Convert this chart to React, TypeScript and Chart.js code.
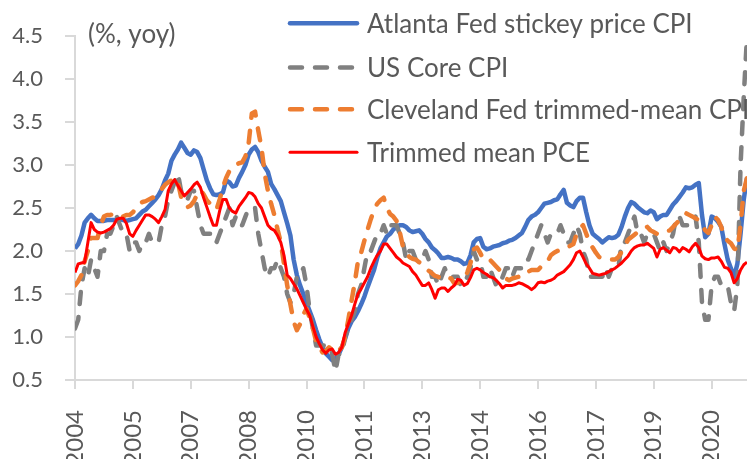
import React, { useEffect, useRef } from 'react';
import { Chart, registerables } from 'chart.js';

Chart.register(...registerables);

// Monthly data, January 2004 to June 2021 (index 0 = 2004-01)
const firstMonth = '2004-01';
const xTickLabels = ['2004', '2005', '2007', '2008', '2010', '2011', '2013', '2014', '2016', '2017', '2019', '2020'];
const xTickStepMonths = 18;
const yTickMin = 0.5;
const yTickMax = 4.5;
const yTickStep = 0.5;
const unitLabel = '(%, yoy)';

const seriesNames = [
  'Atlanta Fed stickey price CPI',
  'US Core CPI',
  'Cleveland Fed trimmed-mean CPI',
  'Trimmed mean PCE',
];

const atlantaSticky = [
  2.03, 2.08, 2.18, 2.33, 2.38, 2.42, 2.38, 2.35, 2.35, 2.35, 2.36, 2.36,
  2.36, 2.36, 2.37, 2.36, 2.35, 2.36, 2.37, 2.38, 2.42, 2.46, 2.48, 2.52,
  2.56, 2.60, 2.65, 2.72, 2.82, 2.90, 3.05, 3.12, 3.18, 3.26, 3.20, 3.14,
  3.12, 3.17, 3.15, 3.08, 2.95, 2.82, 2.73, 2.66, 2.65, 2.66, 2.68, 2.82,
  2.80, 2.75, 2.76, 2.85, 2.92, 3.00, 3.12, 3.18, 3.21, 3.15, 3.05, 2.98,
  2.92, 2.78, 2.72, 2.65, 2.58, 2.45, 2.32, 2.18, 1.90, 1.72, 1.60, 1.50,
  1.40, 1.30, 1.20, 1.08, 0.97, 0.88, 0.81, 0.77, 0.73, 0.74, 0.80, 0.88,
  0.98, 1.10, 1.18, 1.23, 1.30, 1.38, 1.47, 1.58, 1.68, 1.78, 1.92, 2.03,
  2.10, 2.17, 2.20, 2.25, 2.28, 2.30, 2.30, 2.28, 2.24, 2.22, 2.23, 2.24,
  2.20, 2.14, 2.10, 2.04, 2.01, 1.97, 1.92, 1.92, 1.93, 1.92, 1.90, 1.90,
  1.88, 1.85, 1.86, 1.95, 2.10, 2.14, 2.15, 2.05, 2.02, 2.03, 2.05, 2.06,
  2.07, 2.09, 2.10, 2.12, 2.13, 2.15, 2.18, 2.21, 2.28, 2.36, 2.40, 2.42,
  2.45, 2.50, 2.55, 2.56, 2.57, 2.59, 2.60, 2.66, 2.71, 2.56, 2.53, 2.51,
  2.58, 2.62, 2.62, 2.45, 2.30, 2.20, 2.17, 2.14, 2.10, 2.13, 2.16, 2.15,
  2.16, 2.19, 2.28, 2.40, 2.50, 2.57, 2.55, 2.51, 2.48, 2.45, 2.44, 2.47,
  2.45, 2.37, 2.40, 2.42, 2.42, 2.48, 2.54, 2.58, 2.63, 2.68, 2.74, 2.73,
  2.74, 2.77, 2.79, 2.42, 2.16, 2.20, 2.40, 2.38, 2.34, 2.28, 2.08, 1.90,
  1.80, 1.70, 1.85, 2.20, 2.60, 2.85,
];

const usCoreCpi = [
  1.1, 1.2, 1.6, 1.8, 1.7, 1.9, 1.8, 1.7, 2.0, 2.0, 2.2, 2.2,
  2.3, 2.4, 2.3, 2.2, 2.2, 2.0, 2.1, 2.1, 2.0, 2.1, 2.1, 2.2,
  2.1, 2.1, 2.1, 2.3, 2.4, 2.6, 2.7, 2.8, 2.9, 2.7, 2.6, 2.6,
  2.7, 2.7, 2.5, 2.3, 2.2, 2.2, 2.2, 2.1, 2.1, 2.2, 2.3, 2.4,
  2.5, 2.3, 2.4, 2.3, 2.3, 2.4, 2.5, 2.5, 2.5, 2.2, 2.0, 1.8,
  1.7, 1.8, 1.8, 1.9, 1.8, 1.7, 1.5, 1.4, 1.5, 1.7, 1.7, 1.8,
  1.6, 1.3, 1.1, 0.9, 0.9, 0.9, 0.9, 0.9, 0.8, 0.6, 0.8, 0.8,
  1.0, 1.1, 1.2, 1.3, 1.5, 1.6, 1.8, 2.0, 2.0, 2.1, 2.2, 2.2,
  2.3, 2.2, 2.3, 2.3, 2.3, 2.2, 2.1, 1.9, 2.0, 2.0, 1.9, 1.9,
  1.9, 2.0, 1.9, 1.7, 1.7, 1.6, 1.7, 1.8, 1.7, 1.7, 1.7, 1.7,
  1.6, 1.6, 1.7, 1.8, 2.0, 1.9, 1.9, 1.7, 1.7, 1.8, 1.7, 1.6,
  1.6, 1.7, 1.8, 1.8, 1.7, 1.8, 1.8, 1.8, 1.9, 1.9, 2.0, 2.1,
  2.2, 2.3, 2.2, 2.1, 2.2, 2.2, 2.2, 2.3, 2.2, 2.1, 2.1, 2.2,
  2.3, 2.2, 2.0, 1.9, 1.7, 1.7, 1.7, 1.7, 1.7, 1.8, 1.7, 1.8,
  1.8, 1.8, 2.1, 2.1, 2.2, 2.3, 2.4, 2.2, 2.2, 2.1, 2.2, 2.2,
  2.2, 2.1, 2.0, 2.1, 2.0, 2.1, 2.2, 2.4, 2.4, 2.3, 2.3, 2.3,
  2.3, 2.4, 2.1, 1.4, 1.2, 1.2, 1.6, 1.7, 1.7, 1.6, 1.6, 1.6,
  1.4, 1.3, 1.6, 3.0, 3.8, 4.5,
];

const clevelandTrimmed = [
  1.60, 1.65, 1.72, 1.88, 2.00, 2.15, 2.15, 2.15, 2.30, 2.40, 2.42, 2.42,
  2.43, 2.44, 2.42, 2.40, 2.42, 2.42, 2.45, 2.50, 2.55, 2.57, 2.58, 2.60,
  2.62, 2.63, 2.67, 2.72, 2.77, 2.80, 2.82, 2.85, 2.80, 2.63, 2.55, 2.51,
  2.53, 2.58, 2.66, 2.71, 2.66, 2.59, 2.55, 2.51, 2.48, 2.60, 2.74, 2.85,
  2.93, 2.98, 3.00, 3.02, 3.03, 3.10, 3.25, 3.60, 3.62, 3.40, 3.20, 2.90,
  2.70, 2.55, 2.42, 2.25, 2.10, 1.85, 1.60, 1.38, 1.18, 1.08, 1.15, 1.26,
  1.33, 1.22, 1.10, 0.95, 0.88, 0.82, 0.84, 0.88, 0.85, 0.81, 0.84, 0.88,
  1.00, 1.20, 1.42, 1.63, 1.88, 1.98, 2.12, 2.25, 2.37, 2.48, 2.55, 2.59,
  2.62, 2.50, 2.43, 2.40, 2.35, 2.22, 2.05, 1.98, 1.93, 1.91, 1.90, 1.87,
  1.85, 1.82, 1.77, 1.74, 1.71, 1.70, 1.67, 1.67, 1.69, 1.68, 1.62, 1.63,
  1.65, 1.66, 1.75, 1.86, 2.02, 2.04, 1.98, 1.90, 1.90, 1.90, 1.86, 1.82,
  1.78, 1.71, 1.68, 1.66, 1.68, 1.69, 1.70, 1.70, 1.73, 1.76, 1.78, 1.78,
  1.78, 1.82, 1.86, 1.88, 1.95, 1.98, 2.00, 2.01, 2.02, 2.04, 2.06, 2.08,
  2.20, 2.26, 2.30, 2.20, 2.10, 2.04, 1.98, 1.93, 1.92, 1.92, 1.91, 1.90,
  1.90, 1.93, 1.99, 2.06, 2.13, 2.16, 2.19, 2.22, 2.24, 2.26, 2.28, 2.24,
  2.22, 2.20, 2.20, 2.21, 2.23, 2.24, 2.28, 2.32, 2.36, 2.40, 2.44, 2.42,
  2.40, 2.38, 2.36, 2.30, 2.24, 2.21, 2.30, 2.40, 2.36, 2.28, 2.16, 2.12,
  2.09, 2.03, 2.01, 2.30, 2.70, 2.85,
];

const trimmedMeanPce = [
  1.75, 1.85, 1.86, 1.87, 2.10, 2.33, 2.25, 2.22, 2.21, 2.22, 2.24, 2.26,
  2.30, 2.37, 2.38, 2.38, 2.32, 2.20, 2.17, 2.24, 2.30, 2.36, 2.42, 2.42,
  2.40, 2.37, 2.33, 2.40, 2.48, 2.70, 2.78, 2.83, 2.76, 2.70, 2.64, 2.68,
  2.72, 2.77, 2.80, 2.74, 2.62, 2.51, 2.40, 2.30, 2.30, 2.47, 2.60, 2.60,
  2.50, 2.46, 2.44, 2.52, 2.57, 2.62, 2.68, 2.67, 2.63, 2.55, 2.50, 2.40,
  2.30, 2.26, 2.24, 2.18, 2.10, 1.95, 1.72, 1.68, 1.62, 1.56, 1.48, 1.40,
  1.32, 1.25, 1.12, 1.00, 0.92, 0.85, 0.81, 0.85, 0.86, 0.80, 0.82, 0.88,
  1.05, 1.15, 1.25, 1.38, 1.50, 1.56, 1.63, 1.70, 1.80, 1.88, 1.95, 2.00,
  2.08, 2.08, 2.03, 1.98, 1.93, 1.90, 1.86, 1.84, 1.82, 1.76, 1.72, 1.66,
  1.60, 1.60, 1.63, 1.55, 1.45, 1.55, 1.57, 1.57, 1.53, 1.57, 1.60, 1.67,
  1.66, 1.60, 1.62, 1.69, 1.78, 1.80, 1.78, 1.75, 1.73, 1.70, 1.69, 1.66,
  1.62, 1.57, 1.60, 1.60, 1.60, 1.61, 1.63, 1.62, 1.60, 1.58, 1.55, 1.58,
  1.63, 1.64, 1.63, 1.65, 1.66, 1.68, 1.72, 1.74, 1.76, 1.80, 1.84, 1.90,
  1.98, 2.00, 1.93, 1.85, 1.80, 1.74, 1.73, 1.72, 1.73, 1.74, 1.76, 1.78,
  1.80, 1.83, 1.86, 1.90, 1.94, 2.00, 2.04, 2.06, 2.07, 2.07, 2.09, 2.06,
  2.03, 1.93, 2.02, 2.04, 2.01, 1.98, 2.04, 2.03, 1.99, 2.04, 2.02, 1.99,
  2.05, 2.09, 2.04, 1.94, 1.91, 1.90, 1.92, 1.92, 1.93, 1.88, 1.81, 1.80,
  1.75, 1.63, 1.68, 1.78, 1.84, 1.87,
];

const seriesValues = [atlantaSticky, usCoreCpi, clevelandTrimmed, trimmedMeanPce];
const seriesColors = ['#4472C4', '#808080', '#ED7D31', '#FF0000'];
const seriesWidths = [4.5, 4.5, 4.5, 3];
const seriesDashes: number[][] = [[], [12, 13], [12, 13], []];
const seriesOrder = [4, 3, 2, 1];

const TEXT_COLOR = '#595959';
const AXIS_COLOR = '#d9d9d9';
const FONT = 'Lato';

const overlayPlugin = {
  id: 'overlayLegend',
  afterDatasetsDraw(chart: any) {
    const ctx = chart.ctx as CanvasRenderingContext2D;
    ctx.save();
    const rowY = [23.3, 67.5, 109.3, 152.3];
    chart.data.datasets.forEach((ds: any, k: number) => {
      const y = rowY[k];
      ctx.beginPath();
      ctx.strokeStyle = ds.borderColor;
      ctx.lineWidth = ds.borderWidth;
      ctx.lineCap = 'round';
      ctx.setLineDash(ds.borderDash || []);
      ctx.moveTo(290, y);
      ctx.lineTo(357, y);
      ctx.stroke();
      ctx.setLineDash([]);
      ctx.fillStyle = TEXT_COLOR;
      ctx.font = `26px ${FONT}`;
      ctx.textAlign = 'left';
      ctx.textBaseline = 'alphabetic';
      ctx.fillText(ds.label, 367, y + 9.5);
    });
    ctx.fillStyle = TEXT_COLOR;
    ctx.font = `26px ${FONT}`;
    ctx.textAlign = 'left';
    ctx.textBaseline = 'alphabetic';
    ctx.fillText(unitLabel, 88, 43);
    ctx.restore();
  },
};

export default function App() {
  const canvasRef = useRef<HTMLCanvasElement | null>(null);

  useEffect(() => {
    document.body.style.margin = '0';
    const canvas = canvasRef.current;
    if (!canvas) return;

    const datasets = seriesNames.map((name, k) => ({
      label: name,
      data: seriesValues[k].map((v, i) => ({ x: i, y: v })),
      borderColor: seriesColors[k],
      backgroundColor: seriesColors[k],
      borderWidth: seriesWidths[k],
      borderDash: seriesDashes[k],
      borderCapStyle: seriesDashes[k].length ? 'round' : 'butt',
      borderJoinStyle: 'round',
      pointRadius: 0,
      tension: 0,
      fill: false,
      order: seriesOrder[k],
    }));

    const lastIndex = seriesValues[0].length - 1;

    const chart = new Chart(canvas, {
      type: 'line',
      data: { datasets } as any,
      options: {
        responsive: false,
        animation: false,
        devicePixelRatio: 1,
        layout: { padding: { top: 36, right: 0, left: 0, bottom: 0 } },
        plugins: {
          legend: { display: false },
          tooltip: { enabled: false },
          title: { display: false },
        },
        scales: {
          x: {
            type: 'linear',
            min: 0,
            max: lastIndex,
            afterBuildTicks: (scale: any) => {
              scale.ticks = xTickLabels.map((_, k) => ({ value: k * xTickStepMonths }));
            },
            afterFit: (scale: any) => {
              scale.height = 79;
              scale.paddingLeft = 0;
              scale.paddingRight = 0;
            },
            grid: {
              drawOnChartArea: false,
              drawTicks: true,
              tickLength: 9,
              color: AXIS_COLOR,
              lineWidth: 2,
            },
            border: { color: AXIS_COLOR, width: 2 },
            ticks: {
              autoSkip: false,
              minRotation: 90,
              maxRotation: 90,
              padding: 21,
              color: TEXT_COLOR,
              font: { family: FONT, size: 24 },
              callback: (v: any) => xTickLabels[Math.round(Number(v) / xTickStepMonths)] ?? '',
            },
          },
          y: {
            min: yTickMin,
            max: yTickMax,
            afterFit: (scale: any) => {
              scale.width = 75;
            },
            grid: {
              drawOnChartArea: false,
              drawTicks: true,
              tickLength: 10,
              color: AXIS_COLOR,
              lineWidth: 2,
            },
            border: { color: AXIS_COLOR, width: 2 },
            ticks: {
              stepSize: yTickStep,
              padding: 22,
              color: TEXT_COLOR,
              font: { family: FONT, size: 22 },
              callback: (v: any) => Number(v).toFixed(1),
            },
          },
        },
      } as any,
      plugins: [overlayPlugin],
    });

    return () => chart.destroy();
  }, []);

  return (
    <div style={{ width: 747, height: 459, position: 'relative' }} data-start={firstMonth}>
      <canvas ref={canvasRef} width={747} height={459} />
    </div>
  );
}
